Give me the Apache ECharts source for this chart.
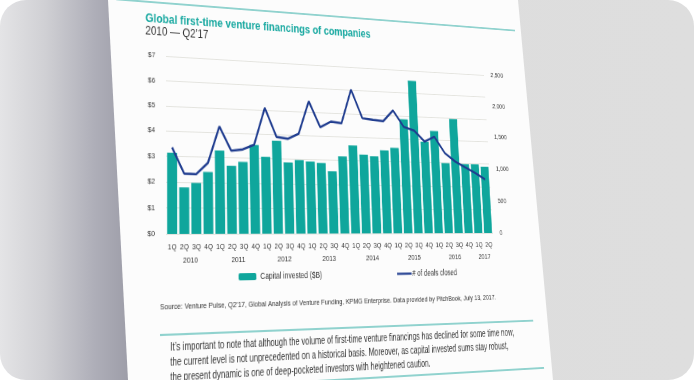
<!DOCTYPE html>
<html><head><meta charset="utf-8">
<script src="https://cdn.jsdelivr.net/npm/echarts@6/dist/echarts.min.js"></script>
<style>
html,body{margin:0;padding:0;width:694px;height:380px;overflow:hidden;background:#ffffff;}
#frame{position:absolute;left:0;top:0;width:694px;height:380px;border-radius:26px;overflow:hidden;
 background:linear-gradient(to right,#e4e4e6 0px,#d0d0d4 45px,#aeaeb8 95px,#9d9da8 129px,#dcdcdc 130px,#dedede 100%);}
#page{position:absolute;left:0;top:0;width:694px;height:380px;background:#fcfcfc;
 clip-path:polygon(108px 0,518px 0,553px 380px,128px 380px);}
#chart{position:absolute;left:0;top:0;width:600px;height:440px;transform-origin:0 0;}
</style></head>
<body><div id="frame"><div id="page"></div><div id="chart"></div></div>
<script>
// ---- data ----
const quarters = ['1Q','2Q','3Q','4Q','1Q','2Q','3Q','4Q','1Q','2Q','3Q','4Q','1Q','2Q','3Q','4Q',
                  '1Q','2Q','3Q','4Q','1Q','2Q','3Q','4Q','1Q','2Q','3Q','4Q','1Q','2Q'];
const years = ['2010','2011','2012','2013','2014','2015','2016','2017'];
const yearQuarterCounts = [4,4,4,4,4,4,4,2];
const capitalInvested = [3.15,1.80,1.98,2.42,3.28,2.68,2.85,3.55,3.08,3.75,2.87,2.98,2.93,2.88,2.55,
                         3.18,3.65,3.27,3.21,3.48,3.60,4.85,6.55,3.90,4.38,3.00,4.95,2.98,2.98,2.88];
const dealsClosed = [1200,836,830,993,1518,1175,1198,1269,1816,1394,1372,1451,1943,1561,1650,
                     1632,2151,1722,1703,1689,1861,1613,1563,1397,1477,1225,1101,1014,928,830];
const leftTicks = {min:0, max:7, step:1};
const rightTicks = {min:0, max:2500, step:500};
const titleText = 'Global first-time venture financings of companies';
const subtitleText = '2010 \u2014 Q2\u201917';
const sourceText = 'Source: Venture Pulse, Q2\u201917, Global Analysis of Venture Funding, KPMG Enterprise. Data provided by PitchBook, July 13, 2017.';
const paragraph = [
 'It\u2019s important to note that although the volume of first-time venture financings has declined for some time now,',
 'the current level is not unprecedented on a historical basis. Moreover, as capital invested sums stay robust,',
 'the present dynamic is one of deep-pocketed investors with heightened caution.'
];

// ---- perspective of the photographed page ----
function homography(src, dst){
  const A=[], b=[];
  for(let i=0;i<4;i++){
    const x=src[i][0], y=src[i][1], u=dst[i][0], v=dst[i][1];
    A.push([x,y,1,0,0,0,-u*x,-u*y]); b.push(u);
    A.push([0,0,0,x,y,1,-v*x,-v*y]); b.push(v);
  }
  const n=8;
  for(let c=0;c<n;c++){
    let p=c; for(let r=c+1;r<n;r++) if(Math.abs(A[r][c])>Math.abs(A[p][c])) p=r;
    let t=A[c]; A[c]=A[p]; A[p]=t; t=b[c]; b[c]=b[p]; b[p]=t;
    for(let r=0;r<n;r++){ if(r===c) continue; const f=A[r][c]/A[c][c];
      for(let k=c;k<n;k++) A[r][k]-=f*A[c][k]; b[r]-=f*b[c]; }
  }
  return b.map((v,i)=>v/A[i][i]);
}
const G = {left:60, top:90, width:435, height:178};
const h = homography(
  [[G.left,G.top],[G.left+G.width,G.top],[G.left,G.top+G.height],[G.left+G.width,G.top+G.height]],
  [[166,56],[484,75],[166,234],[493,233]]);
const el = document.getElementById('chart');
el.style.transform = 'matrix3d('+[h[0],h[3],0,h[6], h[1],h[4],0,h[7], 0,0,1,0, h[2],h[5],0,1].join(',')+')';

// ---- chart ----
const yearPos = []; let acc = 0;
yearQuarterCounts.forEach(c=>{ yearPos.push(acc + c/2); acc += c; });
const FONT = '"Liberation Sans", Arial, Helvetica, sans-serif';
const TEAL = '#0fa69c', NAVY = '#1f3c8f', TXT = '#333333', RULE = '#6cc5bf';

const chart = echarts.init(el, null, {renderer:'canvas'});
chart.setOption({
  animation:false,
  backgroundColor:'transparent',
  textStyle:{fontFamily:FONT},
  title:{text:titleText, subtext:subtitleText, left:35, top:46, padding:0, itemGap:1,
    textStyle:{fontSize:12.5, fontWeight:'bold', color:'#1aa9a1', fontFamily:FONT},
    subtextStyle:{fontSize:12, color:TXT, fontFamily:FONT}},
  grid:{left:G.left, top:G.top, width:G.width, height:G.height},
  legend:[
    {data:['Capital invested ($B)'], left:147, top:306, padding:0, itemWidth:22, itemHeight:7, itemGap:3,
     textStyle:{fontSize:8.5, color:TXT, fontFamily:FONT}},
    {data:[{name:'# of deals closed', icon:'rect'}], left:354, top:306, padding:0, itemWidth:20, itemHeight:2.2,
     textStyle:{fontSize:8.5, color:TXT, fontFamily:FONT, padding:[0,0,0,-4]}}
  ],
  xAxis:[
    {type:'category', data:quarters, axisLine:{show:false}, axisTick:{show:false},
     axisLabel:{interval:0, fontSize:7.8, color:TXT, margin:8.5}},
    {type:'value', min:0, max:quarters.length, position:'bottom', offset:14,
     axisLine:{show:false}, axisTick:{show:false}, splitLine:{show:false},
     axisLabel:{customValues:yearPos, formatter:v=>years[yearPos.indexOf(v)] || '', fontSize:8, color:TXT, margin:8}}
  ],
  yAxis:[
    {type:'value', min:leftTicks.min, max:leftTicks.max, interval:leftTicks.step,
     axisLine:{show:false}, axisTick:{show:false},
     axisLabel:{formatter:'${value}', fontSize:7.8, color:TXT, margin:13},
     splitLine:{lineStyle:{color:'#e4e4df', width:1}}},
    {type:'value', min:rightTicks.min, max:rightTicks.max, interval:rightTicks.step, position:'right',
     axisLine:{show:false}, axisTick:{show:false}, splitLine:{show:false},
     axisLabel:{formatter:v=>v.toLocaleString('en-US'), fontSize:7.8, color:TXT, margin:10}}
  ],
  series:[
    {type:'bar', name:'Capital invested ($B)', data:capitalInvested, xAxisIndex:0, yAxisIndex:0,
     barCategoryGap:'18%', itemStyle:{color:TEAL}},
    {type:'line', name:'# of deals closed', data:dealsClosed, xAxisIndex:0, yAxisIndex:1,
     symbol:'none', lineStyle:{color:NAVY, width:2.4}, itemStyle:{color:NAVY}}
  ],
  graphic:[
    {type:'line', shape:{x1:0,y1:35,x2:548,y2:35}, style:{stroke:RULE, lineWidth:1.5}, silent:true},
    {type:'text', x:53, y:338, style:{text:sourceText, font:'7.7px '+FONT, fill:TXT, verticalAlign:'middle'}},
    {type:'line', shape:{x1:53,y1:364,x2:548,y2:364}, style:{stroke:RULE, lineWidth:1.5}, silent:true},
    {type:'text', x:65, y:376, scaleX:0.89, style:{text:paragraph[0], font:'10.5px '+FONT, fill:TXT, verticalAlign:'middle'}},
    {type:'text', x:65, y:390, scaleX:0.89, style:{text:paragraph[1], font:'10.5px '+FONT, fill:TXT, verticalAlign:'middle'}},
    {type:'text', x:65, y:404, scaleX:0.89, style:{text:paragraph[2], font:'10.5px '+FONT, fill:TXT, verticalAlign:'middle'}},
    {type:'line', shape:{x1:0,y1:415,x2:560,y2:415}, style:{stroke:RULE, lineWidth:1.5}, silent:true}
  ]
});
</script></body></html>
